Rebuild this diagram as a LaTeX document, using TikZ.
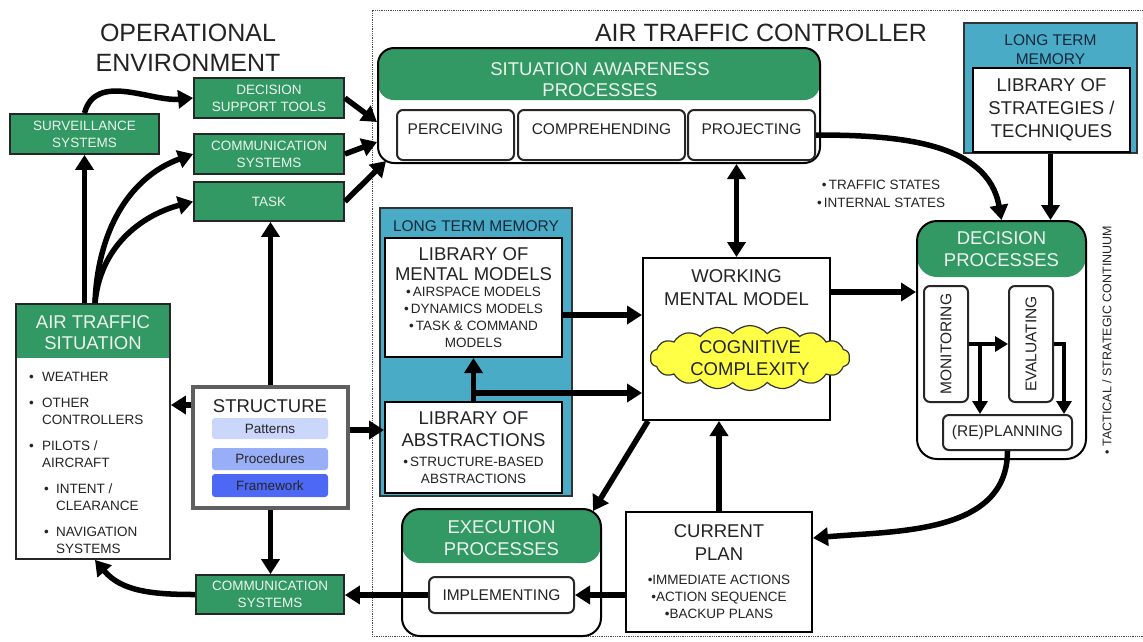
\documentclass[tikz,border=0pt]{standalone}
\usepackage{fontspec}
\usepackage{graphicx}
\setmainfont{Liberation Sans}
\usetikzlibrary{arrows.meta, positioning, shapes.symbols}

\definecolor{atcgreen}{RGB}{50,152,100}
\definecolor{ltmblue}{RGB}{74,171,198}
\definecolor{headtext}{RGB}{236,246,238}
\definecolor{bodytext}{RGB}{35,35,35}
\definecolor{ltmtext}{RGB}{20,40,60}
\definecolor{structgray}{RGB}{95,95,95}
\definecolor{patcol}{RGB}{202,215,251}
\definecolor{proccol}{RGB}{152,174,247}
\definecolor{framecol}{RGB}{76,104,245}
\definecolor{cloudyellow}{RGB}{255,255,70}

\newcommand{\atctitle}{\fontsize{25}{30}\selectfont}
\newcommand{\atcbig}{\fontsize{18.5}{21}\selectfont}
\newcommand{\atcmid}{\fontsize{15.5}{18}\selectfont}
\newcommand{\atcsmall}{\fontsize{13.5}{17}\selectfont}
\newcommand{\atcbul}{\textbullet}

\begin{document}
\begin{tikzpicture}[x=1pt, y=1pt,
  envbox/.style={draw=black!85, line width=1.8pt, fill=atcgreen, text=headtext,
    font=\atcsmall, align=center, inner sep=0pt, minimum width=150pt, minimum height=40pt},
  greenhead/.style={path picture={\fill[atcgreen] (path picture bounding box.north west)
    rectangle ([yshift=-#1]path picture bounding box.north east);}},
  headbox/.style={draw=black!85, line width=1.8pt, fill=white, inner sep=0pt},
  procbox/.style={draw=black, line width=2pt, fill=white, inner sep=0pt},
  headtitle/.style={font=\atcbig, text=headtext, align=center, inner sep=0pt},
  subbox/.style={draw=black!85, line width=2pt, fill=white, rounded corners=6pt,
    minimum height=50pt, inner sep=0pt, font=\atcmid, text=bodytext},
  ltmbox/.style={draw=black!80, line width=1.5pt, fill=ltmblue, inner sep=0pt},
  libbox/.style={draw=black, line width=2pt, fill=white, inner sep=0pt, align=center,
    font=\atcbig, text=bodytext},
  bar/.style={rounded corners=3pt, minimum width=116pt, minimum height=21pt,
    inner sep=0pt, font=\atcsmall, text=black!85},
  arr/.style={line width=5.5pt, -{Triangle[length=15pt,width=18pt]}},
  arrboth/.style={line width=5.5pt, {Triangle[length=15pt,width=18pt]}-{Triangle[length=15pt,width=18pt]}},
  arrthin/.style={line width=4pt, -{Triangle[length=13pt,width=15pt]}}]

\useasboundingbox (0,0) rectangle (1143,-641);

% controller frame
\draw[densely dotted, line width=0.8pt, black!70] (1150,-10) -- (372,-10) -- (372,-636) -- (1150,-636);

% titles
\node[font=\atctitle, align=center, text=bodytext, inner sep=0pt] (envtitle) at (188,-48) {OPERATIONAL\\ENVIRONMENT};
\node[font=\atctitle, text=bodytext, inner sep=0pt] (atctitle) at (761,-33) {AIR TRAFFIC CONTROLLER};

% operational environment
\node[envbox, minimum width=149pt] (surv) at (84.5,-134) {SURVEILLANCE\\SYSTEMS};
\node[envbox] (dst) at (269,-98) {DECISION\\SUPPORT TOOLS};
\node[envbox] (comm1) at (269,-154) {COMMUNICATION\\SYSTEMS};
\node[envbox, minimum height=39pt] (task) at (269,-201.5) {TASK};
\node[envbox, minimum width=148pt, minimum height=39pt] (comm2) at (270,-594.5) {COMMUNICATION\\SYSTEMS};

\node[headbox, greenhead=54pt, minimum width=154pt, minimum height=255pt] (ats) at (93,-431.5) {};
\node[headtitle] (atstitle) at (93,-332.5) {AIR TRAFFIC\\SITUATION};
\node[anchor=north west, font=\atcsmall, align=left, text=bodytext, inner sep=0pt] (atsitems) at (29,-372) {%
  \makebox[13pt][l]{\atcbul}WEATHER\\[9pt]
  \makebox[13pt][l]{\atcbul}OTHER\\
  \hspace*{13pt}CONTROLLERS\\[9pt]
  \makebox[13pt][l]{\atcbul}PILOTS /\\
  \hspace*{13pt}AIRCRAFT\\[9pt]
  \hspace*{15pt}\makebox[12pt][l]{\atcbul}INTENT /\\
  \hspace*{27pt}CLEARANCE\\[9pt]
  \hspace*{15pt}\makebox[12pt][l]{\atcbul}NAVIGATION\\
  \hspace*{27pt}SYSTEMS};

\node[draw=structgray, line width=4pt, fill=white, inner sep=0pt, minimum width=155pt, minimum height=121pt] (struct) at (270.5,-447.5) {};
\node[font=\atcbig, text=bodytext, inner sep=0pt] (structlbl) at (270,-406) {STRUCTURE};
\node[bar, fill=patcol] (pat) at (270,-428.5) {Patterns};
\node[bar, fill=proccol, minimum height=22pt] (proc) at (270,-459) {Procedures};
\node[bar, fill=framecol, minimum height=23pt] (frame) at (270,-485.5) {Framework};

% situation awareness
\node[procbox, greenhead=52pt, rounded corners=16pt, minimum width=442pt, minimum height=115pt] (sa) at (599,-105.5) {};
\node[headtitle] (satitle) at (600,-79.5) {SITUATION AWARENESS\\PROCESSES};
\node[subbox, text depth=12pt, minimum width=117pt] (perc) at (455.5,-135) {PERCEIVING};
\node[subbox, text depth=12pt, minimum width=167pt] (comp) at (601.5,-135) {COMPREHENDING};
\node[subbox, text depth=12pt, minimum width=127pt] (proj) at (751.5,-135) {PROJECTING};

% long term memory (models, abstractions)
\node[ltmbox, minimum width=192pt, minimum height=288pt] (ltm1) at (476,-352) {};
\node[font=\atcmid, text=ltmtext, inner sep=0pt] (ltm1lbl) at (476,-226) {LONG TERM MEMORY};
\node[libbox, minimum width=177pt, minimum height=119pt] (libmm) at (473.5,-297.5) {%
  LIBRARY OF\\[-1pt]
  MENTAL MODELS\\[-5pt]
  \atcsmall\atcbul\,AIRSPACE MODELS\\[-4pt]
  \atcsmall\atcbul\,DYNAMICS MODELS\\[-4pt]
  \atcsmall\atcbul\,TASK \& COMMAND\\[-4pt]
  \atcsmall MODELS};
\node[libbox, minimum width=177pt, minimum height=91pt] (libab) at (473.5,-447.5) {%
  LIBRARY OF\\[1pt]
  ABSTRACTIONS\\[-1pt]
  \atcsmall\atcbul\,STRUCTURE-BASED\\[-4pt]
  \atcsmall ABSTRACTIONS};

% working mental model
\node[libbox, minimum width=187pt, minimum height=162pt] (wmm) at (736.5,-339) {};
\node[below=12pt of wmm.north, font=\atcbig, align=center, text=bodytext, inner sep=0pt] (wmmlbl) {WORKING\\[2pt]MENTAL MODEL};
\node[cloud, cloud puffs=18, cloud puff arc=100, aspect=4.0, draw=black!80, line width=1.2pt, fill=cloudyellow, inner sep=0pt,
  font=\atcbig, align=center, text=bodytext] (cogcx) at (750,-358) {COGNITIVE\\[1pt]COMPLEXITY};

% strategies
\node[ltmbox, minimum width=173pt, minimum height=130pt] (ltm2) at (1050.5,-88) {};
\node[font=\atcmid, align=center, text=ltmtext, inner sep=0pt] (ltm2lbl) at (1050.5,-49.5) {LONG TERM\\[1pt]MEMORY};
\node[libbox, minimum width=157pt, minimum height=84pt] (libst) at (1051.5,-110) {LIBRARY OF\\[2pt]STRATEGIES /\\[2pt]TECHNIQUES};

\node[font=\atcsmall, align=center, text=bodytext, inner sep=0pt] (states) at (881,-194) {\atcbul\,TRAFFIC STATES\\[1pt]\atcbul\,INTERNAL STATES};

% decision
\node[procbox, greenhead=56pt, rounded corners=20pt, minimum width=169pt, minimum height=238pt] (dec) at (1001.5,-340) {};
\node[headtitle] (dectitle) at (1001.5,-249) {DECISION\\[1pt]PROCESSES};
\node[subbox, minimum width=44pt, minimum height=116pt] (mon) at (946,-344) {\rotatebox{90}{MONITORING}};
\node[subbox, minimum width=44pt, minimum height=116pt] (eval) at (1031,-344) {\rotatebox{90}{EVALUATING}};
\node[subbox, minimum width=129pt, minimum height=35pt] (replan) at (1007.5,-432.5) {(RE)PLANNING};
\node[rotate=90, font=\fontsize{12.5}{14}\selectfont, text=bodytext, inner sep=0pt] (continuum) at (1107,-340) {\atcbul\ TACTICAL / STRATEGIC CONTINUUM};

% execution and plan
\node[procbox, greenhead=54pt, rounded corners=18pt, minimum width=199pt, minimum height=127pt] (exec) at (501.5,-572.5) {};
\node[headtitle] (exectitle) at (501.5,-538) {EXECUTION\\[1pt]PROCESSES};
\node[subbox, minimum width=145pt, minimum height=36pt] (impl) at (501.5,-595) {IMPLEMENTING};
\node[libbox, minimum width=186pt, minimum height=120pt] (cur) at (719,-572) {%
  CURRENT\\[2pt]
  PLAN\\[3pt]
  \atcsmall\atcbul IMMEDIATE ACTIONS\\[-4pt]
  \atcsmall\atcbul ACTION SEQUENCE\\[-4pt]
  \atcsmall\atcbul BACKUP PLANS};

% connectors, environment side
\draw[arr] (surv.south |- ats.north) -- (surv.south);
\draw[arr] ([xshift=2pt]ats.north) to[out=88, in=200] (comm1.west);
\draw[arr] ([xshift=2pt]ats.north) to[out=85, in=195] (task.west);
\draw[arr] (surv.north) to[out=75, in=185] (dst.west);
\draw[arr] (dst.east) -- (sa.west |- 0,-122);
\draw[arr] (comm1.east) -- (sa.west |- 0,-142);
\draw[arr] (task.east) -- ([xshift=9pt,yshift=3pt]sa.south west);
\draw[arr] (struct.north) -- (struct.north |- task.south);
\draw[arr] (struct.west |- 0,-405) -- (ats.east |- 0,-405);
\draw[arr] (struct.south) -- (struct.south |- comm2.north);
\draw[arr] (struct.east |- 0,-430) -- (libab.west |- 0,-430);
\draw[arr] (comm2.west) to[out=180, in=-50] ([xshift=2pt]ats.south);

% connectors, controller side
\draw[arrboth] (sa.south -| wmm.north) -- (wmm.north);
\draw[arr] (libmm.east |- 0,-315) -- (wmm.west |- 0,-315);
\draw[arr] (libab.north) -- (libmm.south);
\draw[arr] (libab.north |- 0,-393) -- (wmm.west |- 0,-393);
\draw[arr] (wmm.east |- 0,-292) -- (dec.west |- 0,-292);
\draw[arr] ([xshift=6pt]wmm.south west) -- ([xshift=-9pt,yshift=-3pt]exec.north east);
\draw[arr] (cur.north) -- (cur.north |- wmm.south);
\draw[arr] (cur.west |- impl.east) -- (impl.east);
\draw[arr] (impl.west) -- (comm2.east |- impl.west);
\draw[arr] (proj.east) to[out=0, in=100] (dec.north);
\draw[arr] (ltm2.south) -- (ltm2.south |- dec.north);
\draw[arr] (replan.south) to[out=-90, in=5] ([yshift=34pt]cur.east);
\draw[arrthin] (mon.east) -- (eval.west);
\draw[arrthin] ([xshift=11pt]mon.east) -- ([xshift=11pt]mon.east |- replan.north);
\draw[arrthin] (eval.east) -| ([xshift=-9pt]replan.north east);
\end{tikzpicture}
\end{document}
